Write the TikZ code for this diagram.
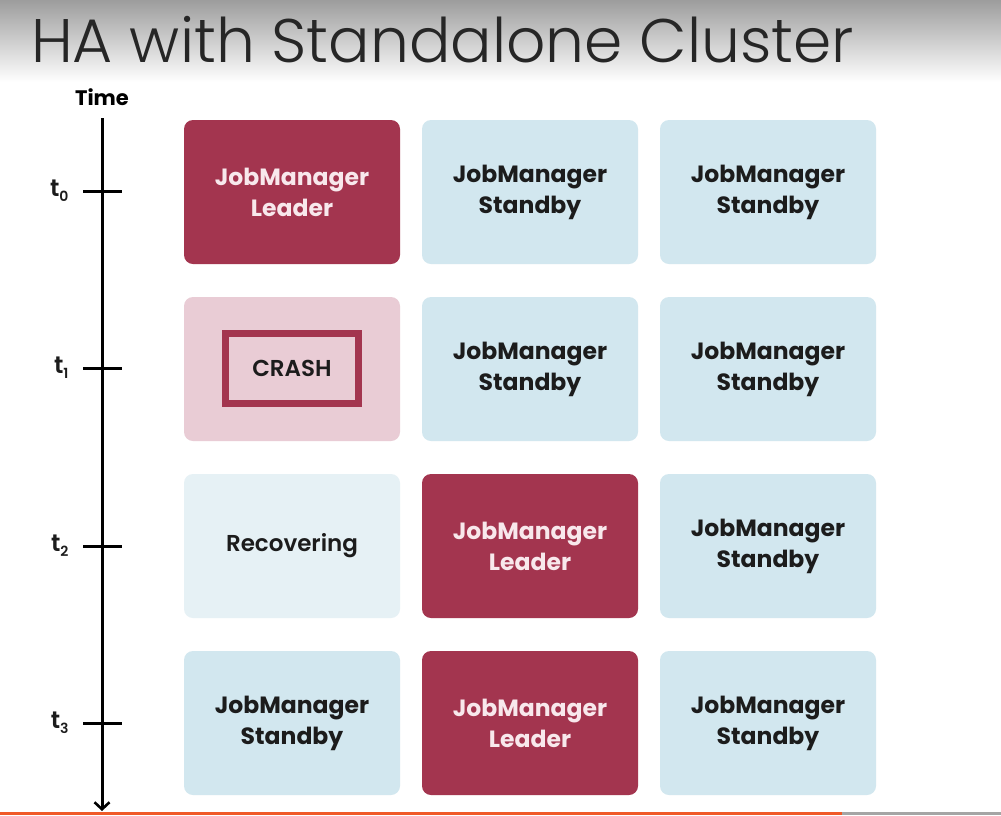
\documentclass[tikz,border=0pt]{standalone}
\usepackage{fontspec}
\setmainfont{Poppins}
\newfontfamily\titlefont{Poppins Light}
\newfontfamily\semifont{Poppins SemiBold}
\usetikzlibrary{arrows.meta}
\definecolor{leader}{RGB}{163,53,79}
\definecolor{standby}{RGB}{210,231,239}
\definecolor{crashbg}{RGB}{233,204,213}
\definecolor{recov}{RGB}{230,241,245}
\definecolor{txt}{RGB}{28,28,28}
\definecolor{ltxt}{RGB}{248,232,236}
\definecolor{barorange}{RGB}{240,90,40}
\definecolor{bargray}{RGB}{165,165,165}
\tikzset{
  jm/.style={rounded corners=9pt, minimum width=216pt, minimum height=144pt, inner sep=0pt, align=center, font=\fontsize{23.5}{31}\selectfont\bfseries, text=txt},
  jmleader/.style={jm, fill=leader, text=ltxt},
  jmstandby/.style={jm, fill=standby},
  jmcrash/.style={jm, fill=crashbg},
  jmrecov/.style={jm, fill=recov, font=\semifont\fontsize{23}{31}\selectfont},
  crashbox/.style={draw=leader, line width=7pt, minimum width=133pt, minimum height=70pt, inner sep=0pt, font=\semifont\fontsize{23}{31}\selectfont, text=txt},
  tick/.style={line width=3pt, draw=black},
  tlabel/.style={font=\semifont\fontsize{24}{26}\selectfont, text=txt, anchor=east}
}
\begin{document}
\begin{tikzpicture}[x=1pt,y=-1pt]
\useasboundingbox (0,0) rectangle (1001,815);
\shade[top color=bargray!95!black, bottom color=white] (0,0) rectangle (1001,82);
\fill[white] (0,82) rectangle (1001,812);
\node[anchor=base west, inner sep=0pt, font=\titlefont\fontsize{61.5}{62}\selectfont, text=black!85] (title) at (31,62) {HA with Standalone Cluster};
% time axis
\node[font=\fontsize{21}{24}\selectfont\bfseries, text=black] (time) at (102,97) {Time};
\coordinate (atop) at (102,118);
\coordinate (abot) at (102,811);
\draw[line width=3pt, -{Straight Barb[length=7pt,width=15pt,line width=2.6pt]}] (atop) -- (abot);
\foreach \i/\y in {0/191,1/368,2/546,3/723}{
  \coordinate (tl\i) at (83,\y);
  \coordinate (tr\i) at (122,\y);
  \draw[tick] (tl\i) -- (tr\i);
  \node[tlabel] (t\i) at (72,\y) {t\raisebox{-0.4ex}{\fontsize{14}{14}\selectfont\i}};
}
% row 0
\node[jmleader] (a0) at (292,192) {JobManager\\Leader};
\node[jmstandby] (b0) at (530,192) {JobManager\\Standby};
\node[jmstandby] (c0) at (768,192) {JobManager\\Standby};
% row 1
\node[jmcrash] (a1) at (292,369) {};
\node[crashbox] (crash) at (292,368.5) {CRASH};
\node[jmstandby] (b1) at (530,369) {JobManager\\Standby};
\node[jmstandby] (c1) at (768,369) {JobManager\\Standby};
% row 2
\node[jmrecov] (a2) at (292,546) {Recovering};
\node[jmleader] (b2) at (530,546) {JobManager\\Leader};
\node[jmstandby] (c2) at (768,546) {JobManager\\Standby};
% row 3
\node[jmstandby] (a3) at (292,723) {JobManager\\Standby};
\node[jmleader] (b3) at (530,723) {JobManager\\Leader};
\node[jmstandby] (c3) at (768,723) {JobManager\\Standby};
% bottom bar
\fill[barorange] (0,812) rectangle (842,815);
\fill[bargray] (842,812) rectangle (1001,815);
\end{tikzpicture}
\end{document}
